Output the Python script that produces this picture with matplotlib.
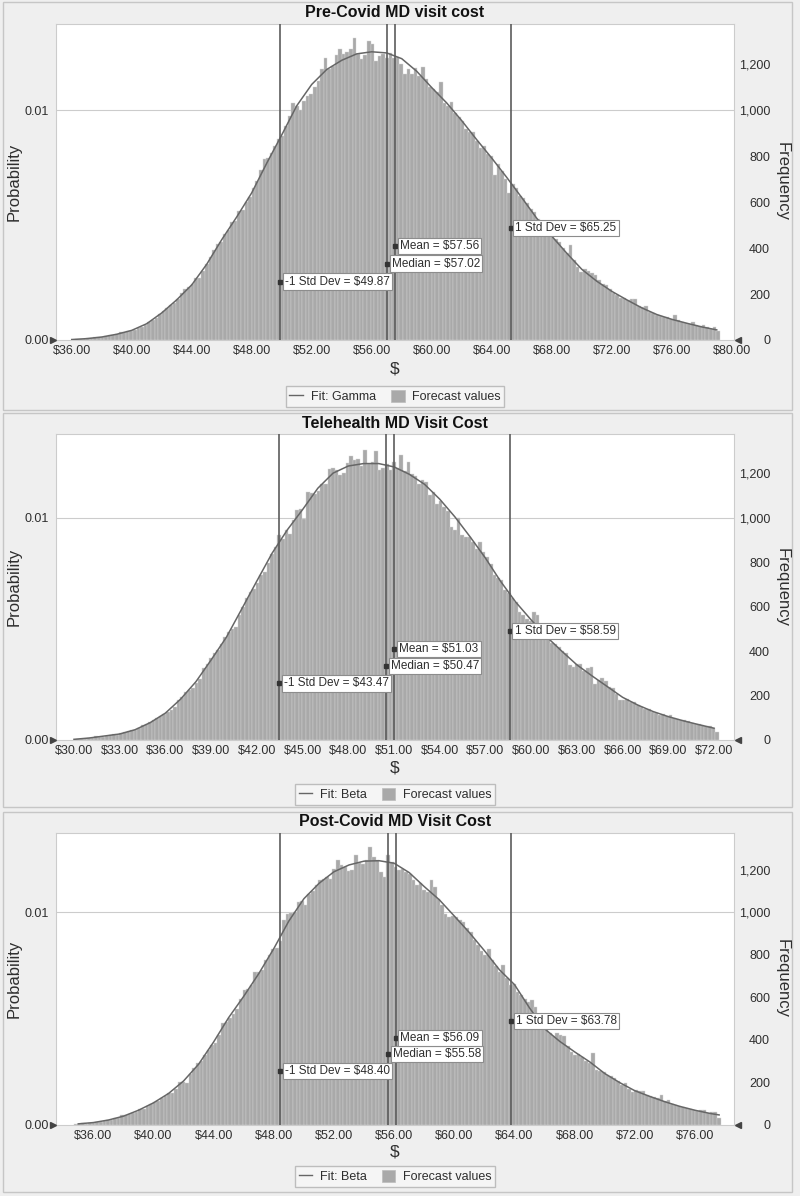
import numpy as np
import matplotlib
matplotlib.use('Agg')
import matplotlib.pyplot as plt
from matplotlib.patches import Rectangle, Patch
from matplotlib.lines import Line2D

plt.rcParams['font.family'] = ['Liberation Sans', 'DejaVu Sans']

# ---- Pre-Covid MD visit cost (180 bins, frequency per bin) ----
pre_range = (36.0, 79.2)
pre_counts = [
    2, 4, 3, 6, 7, 8, 11, 12, 13, 17,
    20, 21, 27, 33, 35, 38, 40, 44, 52, 58,
    66, 80, 86, 97, 115, 128, 140, 152, 163, 178,
    205, 222, 232, 246, 268, 272, 300, 330, 360, 392,
    420, 425, 462, 478, 512, 520, 560, 565, 600, 624,
    660, 694, 740, 790, 792, 815, 845, 875, 890, 930,
    975, 1030, 1017, 1000, 1040, 1062, 1070, 1100, 1128, 1182,
    1230, 1180, 1195, 1240, 1266, 1245, 1255, 1269, 1313, 1245,
    1223, 1240, 1300, 1290, 1215, 1237, 1245, 1230, 1250, 1228,
    1232, 1201, 1157, 1179, 1160, 1185, 1150, 1189, 1135, 1100,
    1092, 1080, 1124, 1034, 1019, 1037, 990, 969, 955, 920,
    904, 906, 866, 838, 845, 810, 800, 720, 766, 738,
    699, 641, 680, 660, 628, 620, 596, 570, 558, 525,
    500, 490, 470, 450, 440, 428, 400, 380, 415, 350,
    320, 298, 310, 300, 290, 283, 262, 245, 240, 222,
    205, 194, 185, 183, 176, 180, 178, 150, 142, 150,
    122, 118, 108, 104, 98, 99, 93, 107, 85, 80,
    74, 71, 79, 66, 60, 66, 58, 50, 55, 40,
]
pre_fit_x = list(range(36, 80))
pre_fit_y = [2, 6, 13, 25, 42, 71, 118, 175, 240, 330, 437, 536, 641, 770, 893,
             1020, 1113, 1178, 1218, 1246, 1255, 1250, 1225, 1170, 1099, 1032,
             955, 872, 792, 708, 620, 530, 452, 378, 308, 256, 212, 175, 140,
             111, 90, 73, 57, 44]
pre_stats = {'-1 Std Dev': 49.87, 'Median': 57.02, 'Mean': 57.56, '1 Std Dev': 65.25}

# ---- Telehealth MD Visit Cost ----
tele_range = (29.92, 72.31)
tele_counts = [
    2, 4, 5, 6, 9, 11, 16, 13, 15, 19,
    21, 25, 24, 31, 34, 42, 45, 44, 55, 66,
    70, 80, 92, 98, 108, 117, 128, 136, 150, 178,
    195, 215, 224, 232, 255, 275, 325, 341, 370, 389,
    404, 430, 464, 486, 500, 509, 560, 600, 640, 665,
    680, 706, 740, 756, 798, 835, 870, 920, 905, 945,
    928, 990, 1033, 1040, 995, 1115, 1110, 1108, 1120, 1152,
    1152, 1220, 1222, 1212, 1190, 1200, 1245, 1275, 1260, 1265,
    1230, 1305, 1240, 1250, 1298, 1212, 1225, 1240, 1215, 1250,
    1225, 1280, 1210, 1250, 1195, 1185, 1150, 1170, 1160, 1100,
    1115, 1060, 1075, 1048, 1030, 958, 943, 1000, 920, 913,
    912, 890, 860, 890, 845, 823, 790, 741, 730, 718,
    674, 659, 640, 620, 575, 560, 545, 535, 576, 560,
    495, 479, 460, 434, 430, 419, 400, 389, 337, 329,
    344, 340, 310, 325, 329, 254, 268, 277, 265, 240,
    232, 205, 180, 182, 185, 172, 170, 158, 150, 140,
    138, 127, 123, 112, 115, 110, 112, 97, 95, 88,
    90, 86, 78, 74, 70, 66, 63, 61, 55, 37,
]
tele_fit_x = list(range(30, 73))
tele_fit_y = [3, 9, 18, 27, 46, 78, 121, 184, 262, 360, 462, 588, 715, 840, 945,
              1036, 1132, 1200, 1232, 1243, 1243, 1228, 1195, 1150, 1083, 1003,
              913, 818, 713, 619, 540, 465, 400, 338, 288, 240, 192, 157, 128,
              105, 86, 69, 53]
tele_stats = {'-1 Std Dev': 43.47, 'Median': 50.47, 'Mean': 51.03, '1 Std Dev': 58.59}

# ---- Post-Covid MD Visit Cost ----
post_range = (34.70, 77.70)
post_counts = [
    3, 3, 6, 5, 8, 9, 12, 13, 17, 20,
    24, 30, 31, 44, 46, 52, 57, 60, 72, 76,
    86, 96, 105, 112, 126, 135, 150, 150, 170, 202,
    200, 198, 240, 265, 289, 300, 328, 352, 375, 383,
    422, 477, 485, 505, 520, 545, 590, 634, 640, 658,
    720, 718, 730, 776, 800, 830, 832, 865, 964, 995,
    998, 1000, 1050, 1055, 1034, 1089, 1100, 1129, 1152, 1160,
    1168, 1160, 1207, 1246, 1222, 1215, 1195, 1200, 1270, 1231,
    1230, 1245, 1309, 1260, 1246, 1191, 1168, 1270, 1238, 1215,
    1200, 1205, 1190, 1180, 1152, 1129, 1140, 1105, 1097, 1152,
    1121, 1065, 1034, 995, 980, 985, 980, 964, 956, 925,
    909, 870, 846, 820, 799, 830, 776, 750, 720, 753,
    689, 658, 665, 626, 611, 590, 580, 587, 556, 500,
    465, 446, 430, 420, 430, 422, 420, 370, 344, 328,
    332, 320, 300, 289, 336, 258, 255, 250, 234, 228,
    218, 205, 187, 195, 170, 155, 163, 158, 160, 140,
    135, 132, 125, 140, 112, 116, 98, 93, 88, 85,
    77, 72, 69, 64, 69, 68, 54, 58, 61, 30,
]
post_fit_x = list(range(35, 78)) + [77.6]
post_fit_y = [4, 10, 22, 40, 68, 103, 147, 206, 285, 390, 505, 605, 712, 830, 960,
              1065, 1137, 1192, 1224, 1242, 1244, 1232, 1188, 1122, 1060, 983,
              905, 820, 730, 660, 550, 452, 393, 343, 296, 241, 198, 160, 133,
              108, 86, 68, 53, 46]
post_stats = {'-1 Std Dev': 48.40, 'Median': 55.58, 'Mean': 56.09, '1 Std Dev': 63.78}

W, H = 800, 1196
BAR = '#a9a9a9'
LINE = '#666666'
TXT = '#2e2e2e'


def fx(px):
    return px / W


def fy(py):
    return 1 - py / H


panels = [
    dict(title='Pre-Covid MD visit cost', counts=pre_counts, rng=pre_range,
         fx_=pre_fit_x, fy_=pre_fit_y, stats=pre_stats, fit='Gamma',
         xlim=(34.95, 80.15), ticks=np.arange(36, 81, 4),
         top=24, bot=340, frame=(2, 410), title_y=12.5, dollar_y=369, leg_y=396.5),
    dict(title='Telehealth MD Visit Cost', counts=tele_counts, rng=tele_range,
         fx_=tele_fit_x, fy_=tele_fit_y, stats=tele_stats, fit='Beta',
         xlim=(28.82, 73.31), ticks=np.arange(30, 73, 3),
         top=434, bot=740, frame=(413, 807), title_y=423.5, dollar_y=768.5, leg_y=794.3),
    dict(title='Post-Covid MD Visit Cost', counts=post_counts, rng=post_range,
         fx_=post_fit_x, fy_=post_fit_y, stats=post_stats, fit='Beta',
         xlim=(33.52, 78.59), ticks=np.arange(36, 77, 4),
         top=832.7, bot=1124.7, frame=(812, 1192), title_y=822, dollar_y=1152, leg_y=1176.7),
]

label_y = {'-1 Std Dev': 0.185, 'Median': 0.242, 'Mean': 0.298, '1 Std Dev': 0.355}
YMAX = 1376

fig = plt.figure(figsize=(8, 11.96), dpi=100)
fig.patch.set_facecolor('#efefef')

for p in panels:
    f0, f1 = p['frame']
    fig.add_artist(Rectangle((fx(3), fy(f1)), fx(792) - fx(3), (f1 - f0) / H,
                             transform=fig.transFigure, fc='#efefef', ec='#c6c6c6',
                             lw=1.0, zorder=-5))

    ax = fig.add_axes([fx(56), fy(p['bot']), fx(734) - fx(56), (p['bot'] - p['top']) / H])
    ax.set_facecolor('white')
    counts = p['counts']
    edges = np.linspace(p['rng'][0], p['rng'][1], len(counts) + 1)
    ax.bar(edges[:-1], counts, width=np.diff(edges), align='edge', color=BAR,
           edgecolor='#d4d4d4', linewidth=0.3, zorder=2)
    ax.plot(p['fx_'], p['fy_'], color=LINE, lw=1.1, zorder=3)
    ax.axhline(1000, color='#cccccc', lw=0.8, zorder=1)
    for name, v in p['stats'].items():
        ax.axvline(v, color='#5c5c5c', lw=1.2, zorder=4)
        tr = ax.get_xaxis_transform()
        ax.plot([v], [label_y[name]], marker='s', ms=2.2, color='#333333',
                transform=tr, zorder=6, clip_on=False)
        ax.annotate(f'{name} = ${v:.2f}', xy=(v, label_y[name]), xycoords=tr,
                    xytext=(3.5, 0), textcoords='offset points', ha='left', va='center',
                    fontsize=8.5, color=TXT, zorder=7,
                    bbox=dict(boxstyle='square,pad=0.18', fc='white', ec='#8c8c8c', lw=0.8))

    ax.set_xlim(*p['xlim'])
    ax.set_ylim(0, YMAX)
    ax.set_xticks(p['ticks'])
    ax.set_xticklabels([f'${t:.2f}' for t in p['ticks']])
    ax.set_yticks([0, 1000])
    ax.set_yticklabels(['0.00', '0.01'])
    ax.tick_params(length=0, labelsize=9, labelcolor=TXT)
    ax.tick_params(axis='x', pad=3.5)
    ax.tick_params(axis='y', pad=5)
    for s in ax.spines.values():
        s.set_color('#cccccc')
        s.set_linewidth(0.8)

    # right-hand frequency axis, labels right-aligned like the original
    ax2 = ax.twinx()
    ax2.set_ylim(0, YMAX)
    ax2.set_yticks(range(0, 1201, 200))
    ax2.set_yticklabels([f'{v:,}' for v in range(0, 1201, 200)], ha='right')
    ax2.tick_params(length=0, labelsize=9, labelcolor=TXT, pad=26)
    for s in ax2.spines.values():
        s.set_visible(False)

    ax.plot([-0.004], [0], marker='>', ms=4, color='#444444', transform=ax.transAxes,
            clip_on=False, zorder=8)
    ax.plot([1.006], [0], marker='<', ms=4, color='#444444', transform=ax.transAxes,
            clip_on=False, zorder=8)

    mid = (p['top'] + p['bot']) / 2
    fig.text(fx(395), fy(p['title_y']), p['title'], ha='center', va='center',
             fontsize=11.5, fontweight='bold', color='#111111')
    fig.text(fx(14), fy(mid), 'Probability', rotation=90, ha='center', va='center',
             fontsize=12, color=TXT)
    fig.text(fx(782), fy(mid), 'Frequency', rotation=270, ha='center', va='center',
             fontsize=12, color=TXT)
    fig.text(fx(395), fy(p['dollar_y']), '$', ha='center', va='center',
             fontsize=12.5, color=TXT)

    handles = [Line2D([], [], color=LINE, lw=1.0),
               Patch(fc=BAR, ec='#bcbcbc', lw=0.5)]
    fig.legend(handles, [f'Fit: {p["fit"]}', 'Forecast values'], loc='center',
               bbox_to_anchor=(fx(395), fy(p['leg_y'])), ncol=2, frameon=True,
               fancybox=False, edgecolor='#bdbdbd', facecolor='#f5f5f5', framealpha=1,
               fontsize=9, handlelength=1.1, handleheight=1.1, handletextpad=0.6,
               columnspacing=1.2, borderpad=0.3, labelcolor=TXT)

fig.savefig('out.png', dpi=100, facecolor=fig.get_facecolor())
